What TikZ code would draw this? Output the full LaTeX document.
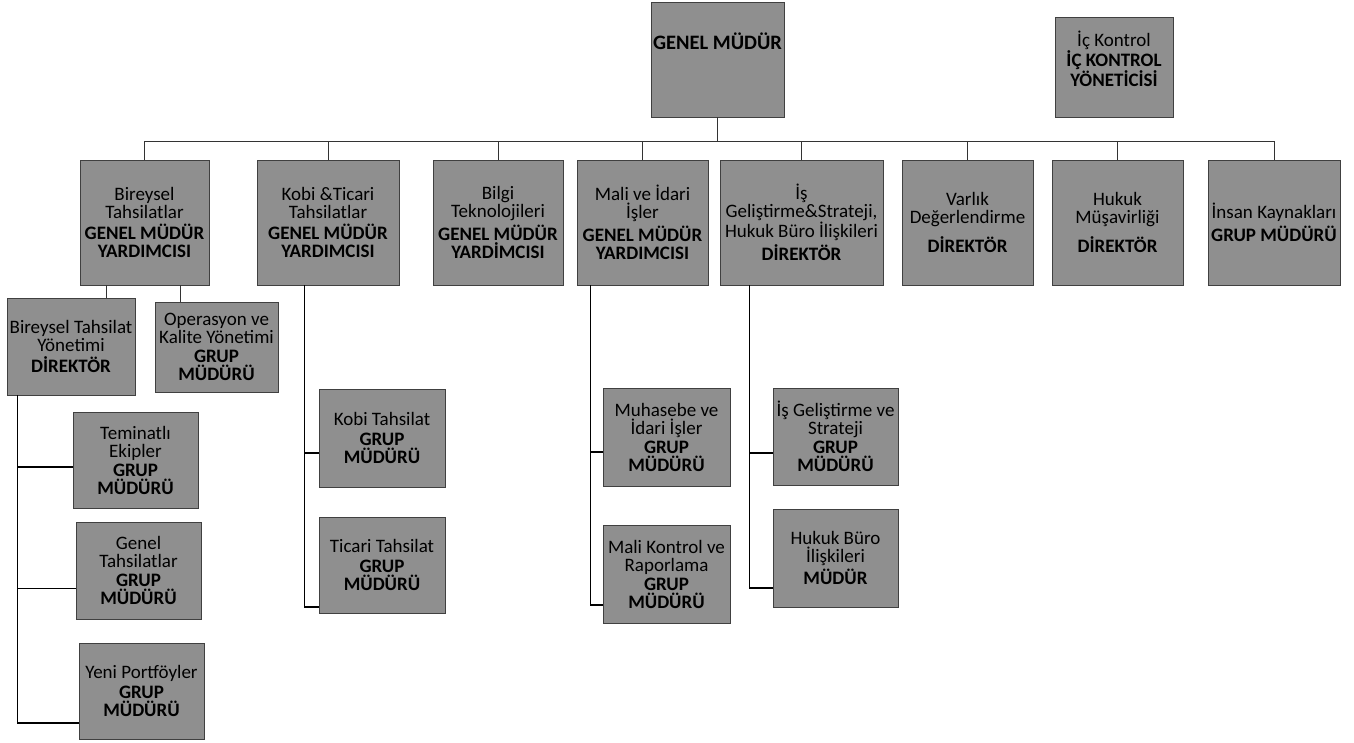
\documentclass[tikz,border=0pt]{standalone}
\usepackage{fontspec}
\setmainfont{Carlito}
\usetikzlibrary{calc}
\tikzset{
  unit/.style={draw=black!75, line width=0.6pt, fill=black!44, inner sep=0pt, align=center,
    font=\fontsize{19}{18}\selectfont},
  sz/.style 2 args={minimum width=#1pt, minimum height=#2pt},
  wire/.style={draw=black!80, line width=0.8pt},
  trunk/.style={draw=black, line width=1.3pt},
}
\begin{document}
\begin{tikzpicture}[x=1pt,y=-1pt]
\useasboundingbox (0,0) rectangle (1354,742);
% top level
\node[unit, sz={133}{115}, text height=14pt, text depth=35pt, font=\fontsize{20.5}{18}\selectfont] (gm) at (717.5,59.5) {\textbf{GENEL MÜDÜR}};
\node[unit, sz={118}{100}, text depth=16pt] (ic) at (1114,67) {İç Kontrol\\\textbf{İÇ KONTROL}\\\textbf{YÖNETİCİSİ}};
% second level
\node[unit, sz={129}{125}] (bt) at (144.5,222.5) {Bireysel\\Tahsilatlar\\[3pt]\textbf{GENEL MÜDÜR}\\\textbf{YARDIMCISI}};
\node[unit, sz={142}{125}] (kt) at (328,222.5) {Kobi \&Ticari\\Tahsilatlar\\[3pt]\textbf{GENEL MÜDÜR}\\\textbf{YARDIMCISI}};
\node[unit, sz={130}{125}] (bil) at (498,222.5) {Bilgi\\Teknolojileri\\[3pt]\textbf{GENEL MÜDÜR}\\\textbf{YARDİMCISI}};
\node[unit, sz={131}{125}] (mal) at (642.5,222.5) {Mali ve İdari\\İşler\\[3pt]\textbf{GENEL MÜDÜR}\\\textbf{YARDIMCISI}};
\node[unit, sz={163}{125}] (is) at (801.5,222.5) {İş\\Geliştirme\&Strateji,\\Hukuk Büro İlişkileri\\[3pt]\textbf{DİREKTÖR}};
\node[unit, sz={131}{125}] (var) at (967.5,222.5) {Varlık\\Değerlendirme\\[9pt]\textbf{DİREKTÖR}};
\node[unit, sz={131}{125}] (huk) at (1117.5,222.5) {Hukuk\\Müşavirliği\\[9pt]\textbf{DİREKTÖR}};
\node[unit, sz={132}{125}] (ik) at (1274,222.5) {İnsan Kaynakları\\[3pt]\textbf{GRUP MÜDÜRÜ}};
% third level
\node[unit, sz={128}{97}] (bty) at (71,346.5) {Bireysel Tahsilat\\Yönetimi\\[3pt]\textbf{DİREKTÖR}};
\node[unit, sz={123}{90}] (op) at (216.5,347) {Operasyon ve\\Kalite Yönetimi\\[1pt]\textbf{GRUP}\\\textbf{MÜDÜRÜ}};
\node[unit, sz={125}{96}] (tem) at (135.5,460) {Teminatlı\\Ekipler\\[1pt]\textbf{GRUP}\\\textbf{MÜDÜRÜ}};
\node[unit, sz={125}{97}] (gen) at (138.5,570.5) {Genel\\Tahsilatlar\\[1pt]\textbf{GRUP}\\\textbf{MÜDÜRÜ}};
\node[unit, sz={125}{96}] (yeni) at (141.5,691) {Yeni Portföyler\\[2pt]\textbf{GRUP}\\\textbf{MÜDÜRÜ}};
\node[unit, sz={126}{98}] (kob) at (382,438) {Kobi Tahsilat\\[2pt]\textbf{GRUP}\\\textbf{MÜDÜRÜ}};
\node[unit, sz={126}{96}] (tic) at (382,565) {Ticari Tahsilat\\[2pt]\textbf{GRUP}\\\textbf{MÜDÜRÜ}};
\node[unit, sz={127}{98}] (muh) at (666.5,437) {Muhasebe ve\\İdari İşler\\[1pt]\textbf{GRUP}\\\textbf{MÜDÜRÜ}};
\node[unit, sz={127}{98}] (mk) at (666.5,574) {Mali Kontrol ve\\Raporlama\\[1pt]\textbf{GRUP}\\\textbf{MÜDÜRÜ}};
\node[unit, sz={125}{97}] (isg) at (835.5,436.5) {İş Geliştirme ve\\Strateji\\[1pt]\textbf{GRUP}\\\textbf{MÜDÜRÜ}};
\node[unit, sz={125}{98}] (hbi) at (835.5,558) {Hukuk Büro\\İlişkileri\\[3pt]\textbf{MÜDÜR}};
% connectors: top bar
\coordinate (bar) at (0,141);
\draw[wire] (gm.south) -- (gm.south |- bar);
\draw[wire] (bt.north |- bar) -- (ik.north |- bar);
\foreach \n in {bt,kt,bil,mal,is,var,huk,ik}
  \draw[wire] (\n.north |- bar) -- (\n.north);
% Bireysel Tahsilatlar children
\coordinate (btA) at ([xshift=27pt]bt.south west);
\coordinate (btB) at ([xshift=101pt]bt.south west);
\draw[wire] (btA) -- (btA |- bty.north);
\draw[wire] (btB) -- (btB |- op.north);
% Bireysel Tahsilat Yonetimi trunk
\coordinate (btyT) at ([xshift=11pt]bty.south west);
\coordinate (temIn) at ([yshift=-7pt]tem.west);
\coordinate (genIn) at ([yshift=-18pt]gen.west);
\coordinate (yeniIn) at ([yshift=-32pt]yeni.west);
\draw[trunk] (btyT) |- (yeniIn);
\draw[trunk] (btyT |- temIn) -- (temIn);
\draw[trunk] (btyT |- genIn) -- (genIn);
% Kobi trunk
\coordinate (ktT) at ([xshift=48pt]kt.south west);
\coordinate (kobIn) at ([yshift=-15pt]kob.west);
\coordinate (ticIn) at ([yshift=-42pt]tic.west);
\draw[trunk] (ktT) |- (ticIn);
\draw[trunk] (ktT |- kobIn) -- (kobIn);
% Mali trunk
\coordinate (malT) at ([xshift=14pt]mal.south west);
\coordinate (muhIn) at ([yshift=-15pt]muh.west);
\coordinate (mkIn) at ([yshift=-31pt]mk.west);
\draw[trunk] (malT) |- (mkIn);
\draw[trunk] (malT |- muhIn) -- (muhIn);
% Is Gelistirme trunk
\coordinate (isT) at ([xshift=30pt]is.south west);
\coordinate (isgIn) at ([yshift=-16.5pt]isg.west);
\coordinate (hbiIn) at ([yshift=-30pt]hbi.west);
\draw[trunk] (isT) |- (hbiIn);
\draw[trunk] (isT |- isgIn) -- (isgIn);
\end{tikzpicture}
\end{document}
